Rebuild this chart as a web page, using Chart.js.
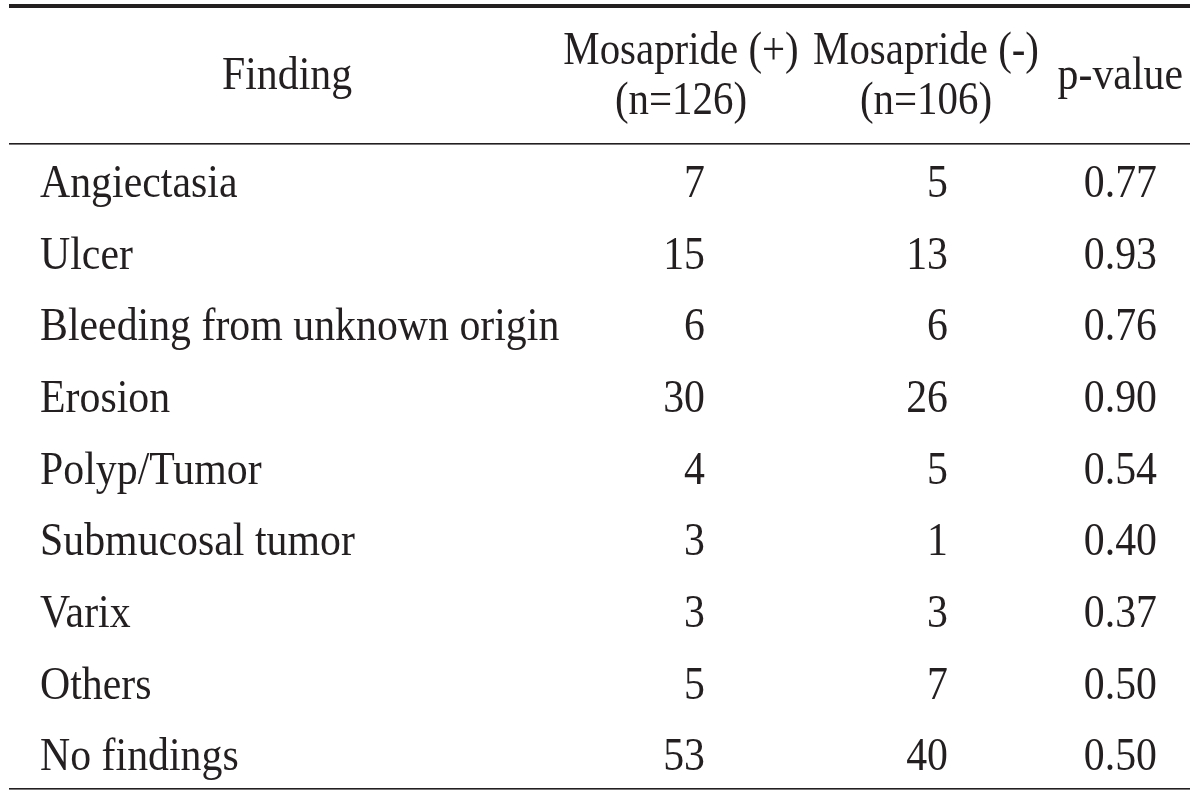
<!DOCTYPE html>
<html>
<head>
<meta charset="utf-8">
<script src="https://cdn.jsdelivr.net/npm/chart.js@4.4.1/dist/chart.umd.min.js"></script>
<style>
  html, body { margin: 0; padding: 0; background: #fff; }
  #wrap { width: 1200px; height: 794px; position: relative; }
</style>
</head>
<body>
<div id="wrap"><canvas id="tbl"></canvas></div>
<script>
/* ── Data ── */
const FINDINGS = [
  'Angiectasia', 'Ulcer', 'Bleeding from unknown origin', 'Erosion',
  'Polyp/Tumor', 'Submucosal tumor', 'Varix', 'Others', 'No findings'
];
const MOSAPRIDE_POS = [7, 15, 6, 30, 4, 3, 3, 5, 53];
const MOSAPRIDE_NEG = [5, 13, 6, 26, 5, 1, 3, 7, 40];
const P_VALUES = ['0.77', '0.93', '0.76', '0.90', '0.54', '0.40', '0.37', '0.50', '0.50'];

const HEADERS = [
  ['Finding'],
  ['Mosapride (+)', '(n=126)'],
  ['Mosapride (-)', '(n=106)'],
  ['p-value']
];

/* ── Layout ── */
const INK = '#231f20';
const FONT = "47px 'Liberation Serif', serif";
const SX = 0.89;       // the source face is condensed
const HEAD_SX = 0.87;  // two-line headers run a touch tighter
const COLS = [
  { x: 40,   align: 'left',  hx: 287,  halign: 'center' },
  { x: 705,  align: 'right', hx: 681,  halign: 'center' },
  { x: 948,  align: 'right', hx: 926,  halign: 'center' },
  { x: 1157, align: 'right', hx: 1183, halign: 'right'  }
];
const RULE_L = 9, RULE_R = 1190;

function drawText(ctx, txt, x, y, align, sx) {
  ctx.save();
  ctx.translate(x, y);
  ctx.scale(sx || SX, 1);
  ctx.textAlign = align;
  ctx.fillText(txt, 0, 0);
  ctx.restore();
}

const tablePlugin = {
  id: 'tableText',
  afterDatasetsDraw(chart) {
    const ctx = chart.ctx;
    const area = chart.chartArea;
    ctx.save();
    ctx.fillStyle = INK;
    ctx.font = FONT;
    ctx.textBaseline = 'alphabetic';

    /* rules */
    ctx.fillRect(RULE_L, 4, RULE_R - RULE_L, 4);
    ctx.fillRect(RULE_L, area.top - 2, RULE_R - RULE_L, 1.6);
    ctx.fillRect(RULE_L, area.bottom - 2, RULE_R - RULE_L, 1.6);

    /* header */
    HEADERS.forEach((lines, c) => {
      const col = COLS[c];
      if (lines.length === 1) {
        drawText(ctx, lines[0], col.hx, 89, col.halign);
      } else {
        drawText(ctx, lines[0], col.hx, 64, col.halign, HEAD_SX);
        drawText(ctx, lines[1], col.hx, 114, col.halign, HEAD_SX);
      }
    });

    /* body cells, positioned by the scales */
    chart.data.datasets.forEach((ds, c) => {
      const meta = chart.getDatasetMeta(c);
      meta.data.forEach((pt, i) => {
        drawText(ctx, ds.cellText[i], pt.x, pt.y + 16, COLS[c].align);
      });
    });
    ctx.restore();
  }
};

function column(values, c) {
  return {
    data: FINDINGS.map(f => ({ x: COLS[c].x, y: f })),
    cellText: values.map(String),
    pointRadius: 0,
    pointHoverRadius: 0
  };
}

new Chart(document.getElementById('tbl'), {
  type: 'scatter',
  data: {
    datasets: [
      column(FINDINGS, 0),
      column(MOSAPRIDE_POS, 1),
      column(MOSAPRIDE_NEG, 2),
      column(P_VALUES, 3)
    ]
  },
  options: {
    responsive: true,
    maintainAspectRatio: false,
    animation: false,
    events: [],
    layout: { padding: { top: 145, bottom: 4, left: 0, right: 0 } },
    plugins: { legend: { display: false }, tooltip: { enabled: false } },
    scales: {
      x: { type: 'linear', min: 0, max: 1200, display: false },
      y: { type: 'category', labels: FINDINGS, offset: true, display: false }
    }
  },
  plugins: [tablePlugin]
});
</script>
</body>
</html>
